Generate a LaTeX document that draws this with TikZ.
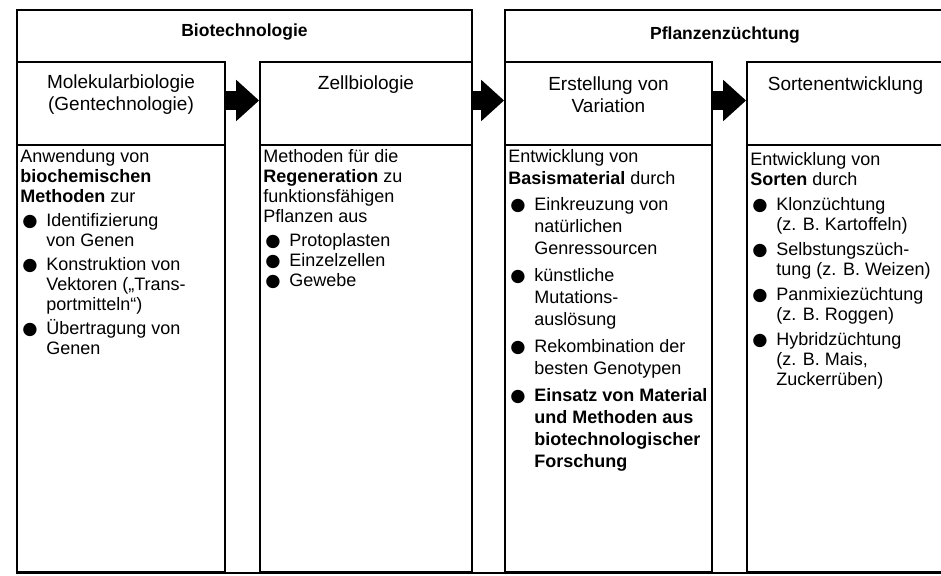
\documentclass[tikz,border=0pt]{standalone}
\usepackage{fontspec}
\setmainfont{Liberation Sans}
\newfontfamily\dotfont{DejaVu Sans}
\usetikzlibrary{positioning,arrows.meta}

\newcommand{\bul}{\makebox[26pt][l]{\hspace{2pt}{\dotfont\fontsize{17.5}{17.5}\selectfont ●}}}
\newcommand{\ind}{\hspace*{26pt}}

\begin{document}
\begin{tikzpicture}[
  x=1pt, y=-1pt,
  frame/.style={line width=1.8pt},
  group/.style={minimum width=#1, minimum height=52pt, inner sep=0pt},
  column/.style={
    draw, line width=1.8pt, inner sep=0pt,
    minimum width=#1, minimum height=510pt
  },
  colhead/.style={
    draw, line width=1.8pt, inner sep=0pt,
    minimum width=#1, minimum height=83pt
  },
  title/.style={font=\fontsize{17.5}{20}\selectfont\bfseries, inner sep=0pt},
  headtext/.style={font=\fontsize{19}{22}\selectfont, align=center, inner sep=0pt},
  body/.style={font=\fontsize{18}{20}\selectfont, align=left, inner sep=0pt},
  flow/.style={line width=19pt, -{Triangle[length=23pt,width=40pt]}}
]
\useasboundingbox (0,0) rectangle (941,575);

% Group frames
\node[group=455pt] (g1) at (244.5,36) {};
\node[group=440pt] (g2) at (725,36) {};
\draw[frame] (g1.south west) -- (g1.north west) -- (g1.north east) -- (g1.south east);
\draw[frame] (g2.south west) -- (g2.north west) -- (g2.north east) -- (g2.south east);
\node[title, below=14pt of g1.north] (t1) {Biotechnologie};
\node[title, below=17pt of g2.north] (t2) {Pflanzenzüchtung};

% Columns
\node[column=208pt] (c1) at (121,317) {};
\node[column=212pt] (c2) at (366,317) {};
\node[column=207pt] (c3) at (608.5,317) {};
\node[column=197pt] (c4) at (845.5,317) {};
\draw[frame] (c1.south west) -- (c4.south east);

% Column heads
\node[colhead=208pt] (h1) at (121,103.5) {};
\node[colhead=212pt] (h2) at (366,103.5) {};
\node[colhead=207pt] (h3) at (608.5,103.5) {};
\node[colhead=197pt] (h4) at (845.5,103.5) {};
\node[headtext, below=13pt of h1.north] (ht1) {Molekularbiologie\\(Gentechnologie)};
\node[headtext, below=14pt of h2.north] (ht2) {Zellbiologie};
\node[headtext, below=15pt of h3.north] (ht3) {Erstellung von\\Variation};
\node[headtext, below=15pt of h4.north] (ht4) {Sortenentwicklung};

% Flow arrows
\draw[flow] ([yshift=3pt]h1.east) -- ([yshift=3pt]h2.west);
\draw[flow] ([yshift=3pt]h2.east) -- ([yshift=3pt]h3.west);
\draw[flow] ([yshift=3pt]h3.east) -- ([yshift=3pt]h4.west);

% Column texts
\node[body, below right=3pt and 4pt of h1.south west] (b1) {
  Anwendung von\\
  \textbf{biochemischen}\\
  \textbf{Methoden} zur\\[4pt]
  \bul Identifizierung\\
  \ind von Genen\\[4pt]
  \bul Konstruktion von\\
  \ind Vektoren („Trans-\\
  \ind portmitteln“)\\[4pt]
  \bul Übertragung von\\
  \ind Genen
};
\node[body, below right=3pt and 4pt of h2.south west] (b2) {
  Methoden für die\\
  \textbf{Regeneration} zu\\
  funktionsfähigen\\
  Pflanzen aus\\[4pt]
  \bul Protoplasten\\
  \bul Einzelzellen\\
  \bul Gewebe
};
\node[body, font=\fontsize{18}{22}\selectfont,
  below right=3pt and 4pt of h3.south west] (b3) {
  Entwicklung von\\
  \textbf{Basismaterial} durch\\[4pt]
  \bul Einkreuzung von\\
  \ind natürlichen\\
  \ind Genressourcen\\[5pt]
  \bul künstliche\\
  \ind Mutations-\\
  \ind auslösung\\[5pt]
  \bul Rekombination der\\
  \ind besten Genotypen\\[5pt]
  \bul \textbf{Einsatz von Material}\\
  \ind \textbf{und Methoden aus}\\
  \ind \textbf{biotechnologischer}\\
  \ind \textbf{Forschung}
};
\node[body, below right=6pt and 4pt of h4.south west] (b4) {
  Entwicklung von\\
  \textbf{Sorten} durch\\[5pt]
  \bul Klonzüchtung\\
  \ind (z. B. Kartoffeln)\\[5pt]
  \bul Selbstungszüch-\\
  \ind tung (z. B. Weizen)\\[5pt]
  \bul Panmixiezüchtung\\
  \ind (z. B. Roggen)\\[5pt]
  \bul Hybridzüchtung\\
  \ind (z. B. Mais,\\
  \ind Zuckerrüben)
};

\end{tikzpicture}
\end{document}
